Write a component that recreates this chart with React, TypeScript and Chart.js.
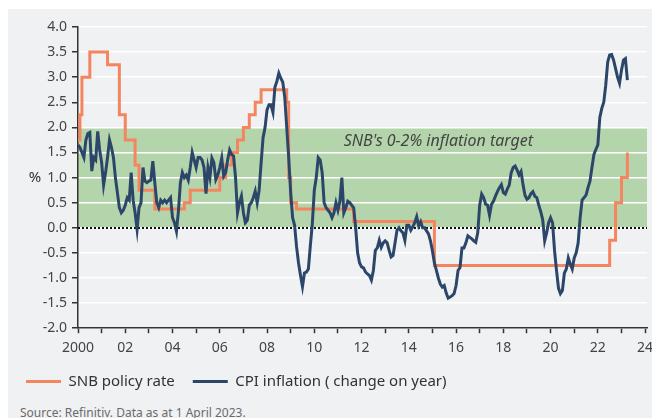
import React, { useEffect, useRef } from 'react';
import { Chart, registerables } from 'chart.js';

Chart.register(...registerables);

// ---------- Data ----------
// Monthly CPI inflation (% change on year), month-end values starting Dec 1999
const CPI_START = '1999-12';
const cpiInflation: number[] = [
  1.65, // Dec 1999
  1.6, 1.5, 1.4, 1.75, 1.88, 1.9, 1.13, 1.4, 1.35, 1.92, 1.55, 1.3, // 2000
  0.85, 1.1, 1.4, 1.75, 1.6, 1.4, 1.0, 0.7, 0.4, 0.3, 0.35, 0.45, // 2001
  0.6, 0.55, 1.1, 0.55, 0.3, -0.03, 0.4, 0.5, 1.2, 0.93, 0.9, 0.93, // 2002
  0.95, 1.33, 0.9, 0.5, 0.4, 0.55, 0.5, 0.55, 0.5, 0.55, 0.6, 0.2, // 2003
  0.1, -0.07, 0.33, 0.9, 1.1, 1.0, 1.05, 0.95, 1.2, 1.5, 1.35, 1.2, // 2004
  1.4, 1.4, 1.35, 1.2, 0.68, 1.2, 1.0, 1.39, 1.3, 0.96, 1.05, 1.2, // 2005
  1.39, 1.03, 1.1, 1.35, 1.55, 1.46, 1.43, 1.0, 0.3, 0.5, 0.63, 0.3, // 2006
  0.1, 0.15, 0.45, 0.5, 0.6, 0.73, 0.5, 0.75, 1.3, 1.8, 2.0, 2.35, // 2007
  2.45, 2.45, 2.3, 2.8, 2.92, 3.08, 2.98, 2.9, 2.6, 2.0, 1.4, 0.7, // 2008
  0.2, 0.05, -0.38, -0.7, -0.95, -1.17, -0.9, -0.88, -0.82, -0.35, 0.08, 0.75, // 2009
  1.0, 1.4, 1.35, 1.1, 0.5, 0.4, 0.35, 0.3, 0.2, 0.3, 0.5, 0.35, // 2010
  0.53, 1.0, 0.3, 0.4, 0.53, 0.5, 0.45, 0.4, 0.0, -0.5, -0.7, -0.78, // 2011
  -0.8, -0.88, -0.92, -0.95, -1.04, -0.85, -0.45, -0.4, -0.25, -0.39, -0.3, -0.26, // 2012
  -0.3, -0.45, -0.58, -0.55, -0.3, -0.05, 0.0, -0.06, -0.1, -0.25, 0.05, 0.05, // 2013
  -0.05, 0.02, 0.1, 0.22, 0.04, 0.12, 0.0, 0.0, -0.06, -0.12, -0.26, -0.46, // 2014
  -0.7, -0.85, -1.0, -1.12, -1.18, -1.15, -1.3, -1.4, -1.38, -1.35, -1.31, -1.15, // 2015
  -0.85, -0.79, -0.4, -0.4, -0.3, -0.16, -0.19, -0.22, -0.26, -0.29, -0.1, 0.45, // 2016
  0.67, 0.6, 0.47, 0.45, 0.25, 0.47, 0.53, 0.63, 0.72, 0.8, 0.86, 0.7, // 2017
  0.67, 0.77, 0.85, 1.1, 1.2, 1.23, 1.15, 1.05, 1.12, 0.86, 0.65, 0.57, // 2018
  0.6, 0.68, 0.72, 0.63, 0.6, 0.45, 0.32, 0.16, -0.26, -0.1, 0.1, 0.2, // 2019
  0.1, -0.45, -0.85, -1.2, -1.31, -1.25, -0.9, -0.82, -0.6, -0.72, -0.82, -0.6, // 2020
  -0.5, -0.3, 0.2, 0.55, 0.6, 0.65, 0.8, 0.93, 1.2, 1.46, 1.56, 1.65, // 2021
  2.2, 2.38, 2.5, 2.84, 3.3, 3.44, 3.45, 3.34, 3.17, 3.0, 2.88, 3.14, // 2022
  3.34, 3.37, 2.94, // 2023
];

// SNB policy rate: month (end) when a new level takes effect, and the level
const policyDates: string[] = [
  '1999-12', '2000-01', '2000-02', '2000-06', '2001-03', '2001-09', '2001-12',
  '2002-05', '2002-07', '2003-03', '2004-06', '2004-09', '2005-12', '2006-03',
  '2006-06', '2006-09', '2006-12', '2007-03', '2007-06', '2007-09', '2008-10',
  '2008-11', '2008-12', '2009-03', '2011-08', '2015-01', '2022-06', '2022-09',
  '2022-12', '2023-03',
];
const policyRates: number[] = [
  1.75, 2.25, 3.0, 3.5, 3.25, 2.25, 1.75,
  1.25, 0.75, 0.375, 0.5, 0.75, 1.0, 1.25,
  1.5, 1.75, 2.0, 2.25, 2.5, 2.75, 2.5,
  1.0, 0.5, 0.375, 0.125, -0.75, -0.25, 0.5,
  1.0, 1.5,
];

const seriesLabels = ['SNB policy rate', 'CPI inflation ( change on year)'];
const targetBand = [0, 2];
const targetLabel = "SNB's 0-2% inflation target";
const yAxisLabel = '%';
const sourceText = 'Source: Refinitiv. Data as at 1 April 2023.';

const X_MIN = 2000;
const X_MAX = 2024.08;
const Y_MIN = -2;
const Y_MAX = 4;

// ---------- Styles ----------
const ORANGE = '#f5855f';
const NAVY = '#2c466a';
const GREEN = '#b4d5ab';
const BG = '#f0f1f3';
const AXIS = '#333333';
const TEXT = '#444444';
const FONT = "'Noto Sans', 'Open Sans', sans-serif";

function ymToX(ym: string): number {
  const [y, m] = ym.split('-').map(Number);
  return y + m / 12;
}

const bandPlugin = {
  id: 'targetBand',
  beforeDraw(chart: any) {
    const { ctx, chartArea, scales } = chart;
    const y = scales.y;
    const top = y.getPixelForValue(targetBand[1]);
    const bottom = y.getPixelForValue(targetBand[0]);
    ctx.save();
    ctx.fillStyle = GREEN;
    ctx.fillRect(chartArea.left, top, chartArea.right - chartArea.left, bottom - top);
    ctx.restore();
  },
  beforeDatasetsDraw(chart: any) {
    const { ctx, chartArea, scales } = chart;
    const x = scales.x;
    const y = scales.y;
    ctx.save();
    // dotted zero line
    const y0 = Math.round(y.getPixelForValue(0));
    ctx.strokeStyle = '#111111';
    ctx.lineWidth = 2;
    ctx.setLineDash([2, 2]);
    ctx.beginPath();
    ctx.moveTo(chartArea.left, y0);
    ctx.lineTo(chartArea.right, y0);
    ctx.stroke();
    ctx.setLineDash([]);
    // band label
    ctx.fillStyle = TEXT;
    ctx.font = `italic 16px ${FONT}`;
    ctx.textAlign = 'center';
    ctx.textBaseline = 'middle';
    ctx.fillText(targetLabel, x.getPixelForValue(2015.25), y.getPixelForValue(1.72));
    // y axis unit label
    ctx.font = `15px ${FONT}`;
    ctx.fillStyle = AXIS;
    ctx.fillText(yAxisLabel, 27, y.getPixelForValue(1.0));
    ctx.restore();
  },
};

export default function App() {
  const canvasRef = useRef<HTMLCanvasElement | null>(null);

  useEffect(() => {
    const canvas = canvasRef.current;
    if (!canvas) return;
    const startX = ymToX(CPI_START);
    const cpiPoints = cpiInflation.map((v, i) => ({ x: startX + i / 12, y: v }));
    const policyPoints = policyDates.map((d, i) => ({ x: ymToX(d), y: policyRates[i] }));

    const chart = new Chart(canvas, {
      type: 'line',
      data: {
        datasets: [
          {
            label: seriesLabels[0],
            data: policyPoints,
            borderColor: ORANGE,
            backgroundColor: ORANGE,
            borderWidth: 3,
            pointRadius: 0,
            stepped: true,
            order: 1,
          },
          {
            label: seriesLabels[1],
            data: cpiPoints,
            borderColor: NAVY,
            backgroundColor: NAVY,
            borderWidth: 3,
            pointRadius: 0,
            tension: 0,
            order: 0,
          },
        ],
      },
      options: {
        responsive: false,
        animation: false,
        devicePixelRatio: 1,
        layout: { padding: { top: 18, right: 13, left: 0, bottom: 4 } },
        font: { family: FONT },
        scales: {
          x: {
            type: 'linear',
            min: X_MIN,
            max: X_MAX,
            border: { display: true, color: AXIS, width: 1.5 },
            grid: {
              display: true,
              drawOnChartArea: false,
              drawTicks: true,
              tickLength: 5,
              tickColor: AXIS,
              tickWidth: 1.5,
            },
            ticks: {
              stepSize: 1,
              autoSkip: false,
              maxRotation: 0,
              includeBounds: false,
              padding: 6,
              color: TEXT,
              font: { family: FONT, size: 14 },
              callback: (v: any) => {
                const n = Number(v);
                if (Math.abs(n - Math.round(n)) > 1e-6) return '';
                const yr = Math.round(n);
                if (yr % 2 !== 0) return '';
                return yr === 2000 ? '2000' : String(yr % 100).padStart(2, '0');
              },
            },
            afterFit: (s: any) => {
              s.height = s.height - 6;
            },
          },
          y: {
            min: Y_MIN,
            max: Y_MAX,
            border: { display: true, color: AXIS, width: 1.5 },
            grid: {
              color: '#ffffff',
              lineWidth: 1.5,
              drawTicks: true,
              tickLength: 6,
              tickColor: AXIS,
              tickWidth: 1.5,
            },
            ticks: {
              stepSize: 0.5,
              padding: 5,
              color: TEXT,
              font: { family: FONT, size: 14 },
              callback: (v: any) => Number(v).toFixed(1),
            },
            afterFit: (s: any) => {
              s.width = 70;
            },
          },
        },
        plugins: {
          tooltip: { enabled: false },
          legend: {
            position: 'bottom',
            align: 'start',
            labels: {
              boxWidth: 35,
              boxHeight: 3,
              padding: 18,
              color: AXIS,
              font: { family: FONT, size: 15 },
              sort: (a: any, b: any) => a.datasetIndex - b.datasetIndex,
              generateLabels: (ch: any) => {
                const items = (Chart.defaults as any).plugins.legend.labels.generateLabels(ch);
                return items.map((it: any) => ({ ...it, lineWidth: 0, fillStyle: it.strokeStyle }));
              },
            },
          },
        },
      } as any,
      plugins: [bandPlugin],
    });
    return () => chart.destroy();
  }, []);

  return (
    <div
      style={{
        position: 'fixed',
        left: 8,
        top: 9,
        width: 652,
        height: 420,
        background: BG,
        overflow: 'hidden',
        fontFamily: FONT,
      }}
    >
      <canvas ref={canvasRef} width={652} height={394} style={{ display: 'block' }} />
      <div
        style={{
          position: 'absolute',
          left: 12,
          top: 396,
          fontSize: 12,
          color: '#6b6b6b',
          whiteSpace: 'nowrap',
          lineHeight: '16px',
        }}
      >
        {sourceText}
      </div>
    </div>
  );
}
